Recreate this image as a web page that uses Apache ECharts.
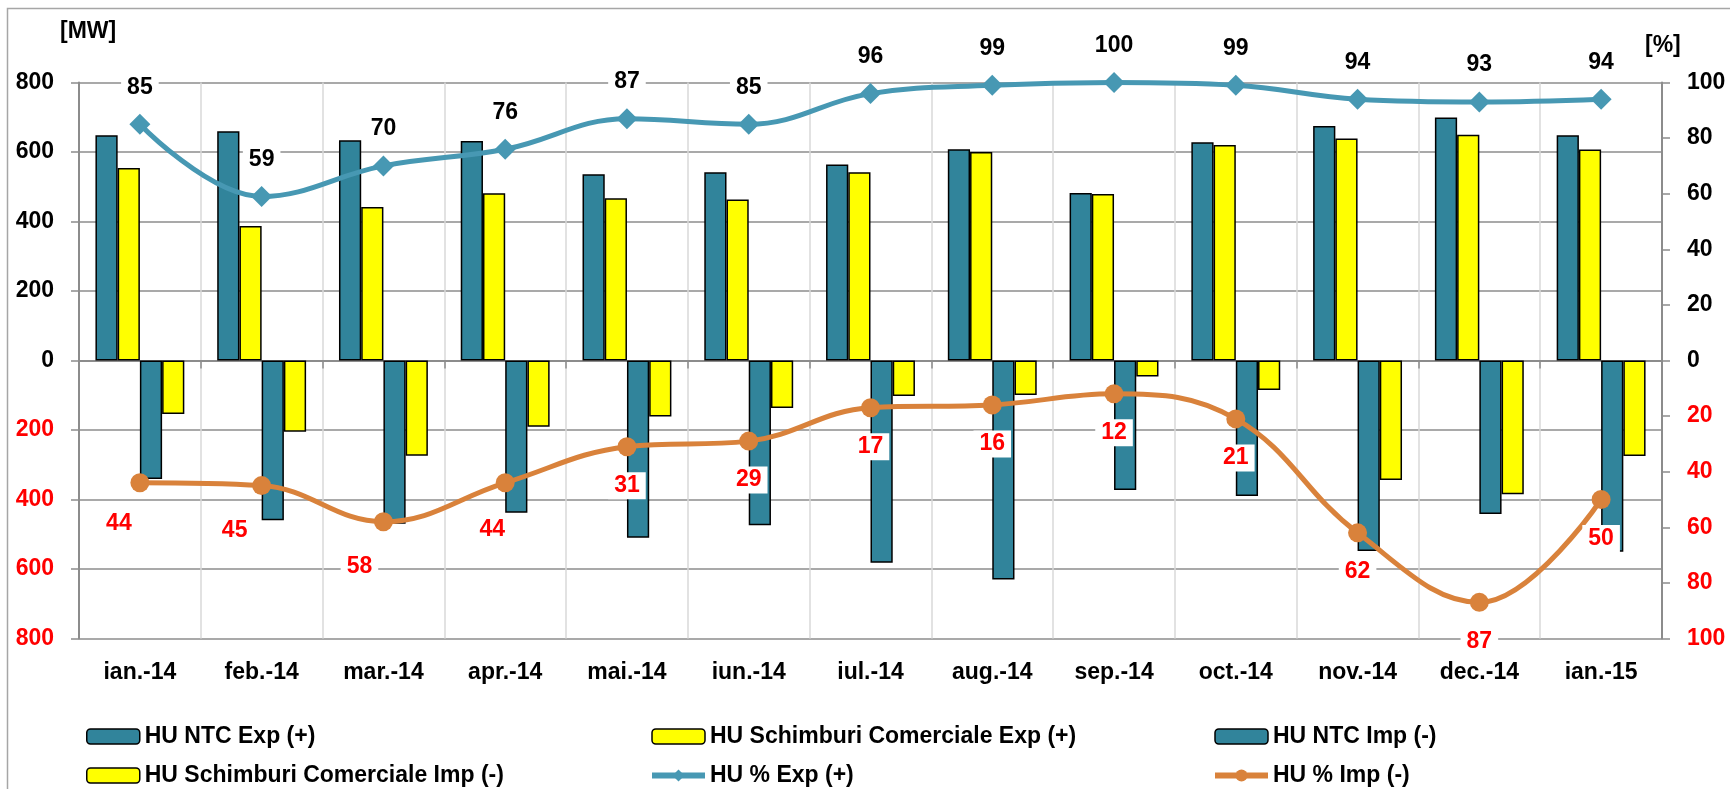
<!DOCTYPE html>
<html>
<head>
<meta charset="utf-8">
<script src="https://cdn.jsdelivr.net/npm/echarts@6/dist/echarts.min.js"></script>
<style>
    html, body {margin: 0; padding: 0; background: #fff;}
    #chart {width: 1730px; height: 789px;}
</style>
</head>
<body>
<div id="chart"></div>
<script>
// categorii (luni)
var months = ['ian.-14', 'feb.-14', 'mar.-14', 'apr.-14', 'mai.-14', 'iun.-14', 'iul.-14',
    'aug.-14', 'sep.-14', 'oct.-14', 'nov.-14', 'dec.-14', 'ian.-15'];

// valori MW (importurile sunt negative)
var ntcExp = [648, 660, 634, 632, 536, 542, 564, 608, 482, 628, 675, 699, 648];
var schimbExp = [554, 387, 442, 481, 467, 463, 542, 600, 479, 620, 639, 650, 607];
var ntcImp = [-341, -460, -470, -438, -510, -474, -582, -630, -373, -390, -548, -442, -550];
var schimbImp = [-154, -205, -274, -191, -161, -137, -102, -99, -46, -85, -344, -385, -275];

// procente (importul se deseneaza sub zero)
var pctExp = [85, 59, 70, 76, 87, 85, 96, 99, 100, 99, 94, 93, 94];
var pctImp = [-44, -45, -58, -44, -31, -29, -17, -16, -12, -21, -62, -87, -50];

// tick-uri axe
var mwTicks = {min: -800, max: 800, step: 200};
var pctTicks = {min: -100, max: 100, step: 20};

var FONT = 'Liberation Sans, Arial, sans-serif';
var TEAL = '#31849B';
var YELLOW = '#FFFF00';
var LINE_EXP = '#4798B3';
var LINE_IMP = '#D9823B';
var GRID_GRAY = '#8C8C8C';

function signColor(value) {
    return value < 0 ? '#FF0000' : '#000000';
}

function absLabel(value) {
    return String(Math.abs(value));
}

// etichetele primelor luni sunt mutate putin la stanga, ca in original
var impLabelShift = [[-21, 2], [-27, 6], [-24, 6], [-13, 8]];

function barSeries(name, color, data) {
    return {
        name: name,
        type: 'bar',
        data: data,
        barGap: '0%',
        barCategoryGap: '27%',
        itemStyle: {color: color, borderColor: '#000', borderWidth: 1.5}
    };
}

var impData = pctImp.map(
    function (v, i) {
        var item = {value: v};
        if (impLabelShift[i]) {
            item.label = {offset: impLabelShift[i]};
        }
        return item;
    }
);

function legendCol(left, names) {
    return {
        orient: 'vertical',
        left: left,
        top: 725,
        padding: 0,
        itemGap: 16,
        itemWidth: 53,
        itemHeight: 15,
        textStyle: {fontFamily: FONT, fontWeight: 'bold', fontSize: 23, color: '#000', lineHeight: 22},
        data: names.map(
            function (n) {
                var isBar = n.indexOf('%') < 0;
                if (isBar) {
                    return {name: n, itemStyle: {borderColor: '#000', borderWidth: 1.5}};
                }
                return {name: n, lineStyle: {width: 6}};
            }
        )
    };
}

var chart = echarts.init(document.getElementById('chart'), null, {renderer: 'canvas'});

var option = {
    animation: false,
    backgroundColor: '#fff',
    grid: {left: 79, right: 68, top: 82.5, bottom: 150.5},
    graphic: [
        {
            type: 'polyline',
            shape: {points: [[7.5, 789], [7.5, 8.5], [1730, 8.5]]},
            style: {stroke: '#A6A6A6', lineWidth: 1.5, fill: null}
        },
        {
            type: 'text', left: 60, top: 20,
            style: {text: '[MW]', font: 'bold 23px ' + FONT, fill: '#000'}
        },
        {
            type: 'text', left: 1645, top: 34,
            style: {text: '[%]', font: 'bold 23px ' + FONT, fill: '#000'}
        }
    ],
    legend: [
        legendCol(86, ['HU NTC Exp (+)', 'HU Schimburi Comerciale Imp (-)']),
        legendCol(649, ['HU Schimburi Comerciale Exp (+)', 'HU % Exp (+)']),
        legendCol(1212, ['HU NTC Imp (-)', 'HU % Imp (-)'])
    ],
    xAxis: [
        {
            type: 'category',
            data: months,
            position: 'bottom',
            axisLine: {show: false, onZero: false},
            axisTick: {show: false},
            splitLine: {show: true, interval: 0, lineStyle: {color: '#D9D9D9', width: 1.5}},
            axisLabel: {
                interval: 0, margin: 23,
                fontFamily: FONT, fontWeight: 'bold', fontSize: 23, color: '#000'
            }
        },
        {
            type: 'category',
            data: months,
            position: 'bottom',
            axisLine: {show: true, onZero: true, onZeroAxisIndex: 0, lineStyle: {color: GRID_GRAY, width: 2}},
            axisTick: {show: true, interval: 0, length: 8, lineStyle: {color: GRID_GRAY, width: 1.5}},
            axisLabel: {show: false},
            splitLine: {show: false}
        }
    ],
    yAxis: [
        {
            type: 'value',
            min: mwTicks.min,
            max: mwTicks.max,
            interval: mwTicks.step,
            position: 'left',
            axisLine: {show: true, lineStyle: {color: GRID_GRAY, width: 2}},
            axisTick: {show: true, length: 8, lineStyle: {color: GRID_GRAY, width: 1.5}},
            splitLine: {show: true, lineStyle: {color: GRID_GRAY, width: 1.5}},
            axisLabel: {
                margin: 25, formatter: absLabel, color: signColor,
                fontFamily: FONT, fontWeight: 'bold', fontSize: 23
            }
        },
        {
            type: 'value',
            min: pctTicks.min,
            max: pctTicks.max,
            interval: pctTicks.step,
            position: 'right',
            axisLine: {show: true, lineStyle: {color: GRID_GRAY, width: 2}},
            axisTick: {show: true, length: 8, lineStyle: {color: GRID_GRAY, width: 1.5}},
            splitLine: {show: false},
            axisLabel: {
                margin: 25, formatter: absLabel, color: signColor,
                fontFamily: FONT, fontWeight: 'bold', fontSize: 23
            }
        }
    ],
    series: [
        barSeries('HU NTC Exp (+)', TEAL, ntcExp),
        barSeries('HU Schimburi Comerciale Exp (+)', YELLOW, schimbExp),
        barSeries('HU NTC Imp (-)', TEAL, ntcImp),
        barSeries('HU Schimburi Comerciale Imp (-)', YELLOW, schimbImp),
        {
            name: 'HU % Exp (+)',
            type: 'line',
            yAxisIndex: 1,
            data: pctExp,
            smooth: 0.4,
            symbol: 'diamond',
            symbolSize: 21,
            z: 5,
            lineStyle: {color: LINE_EXP, width: 5},
            itemStyle: {color: LINE_EXP},
            label: {
                show: true, position: 'top', distance: 13,
                formatter: function (p) {
                    return absLabel(p.value);
                },
                fontFamily: FONT, fontWeight: 'bold', fontSize: 23, color: '#000',
                backgroundColor: '#fff', padding: [2, 6]
            }
        },
        {
            name: 'HU % Imp (-)',
            type: 'line',
            yAxisIndex: 1,
            data: impData,
            smooth: 0.4,
            symbol: 'circle',
            symbolSize: 19,
            z: 5,
            lineStyle: {color: LINE_IMP, width: 5},
            itemStyle: {color: LINE_IMP},
            label: {
                show: true, position: 'bottom', distance: 16,
                formatter: function (p) {
                    return absLabel(p.value);
                },
                fontFamily: FONT, fontWeight: 'bold', fontSize: 23, color: '#FF0000',
                backgroundColor: '#fff', padding: [2, 6]
            }
        }
    ]
};

chart.setOption(option);
</script>
</body>
</html>
